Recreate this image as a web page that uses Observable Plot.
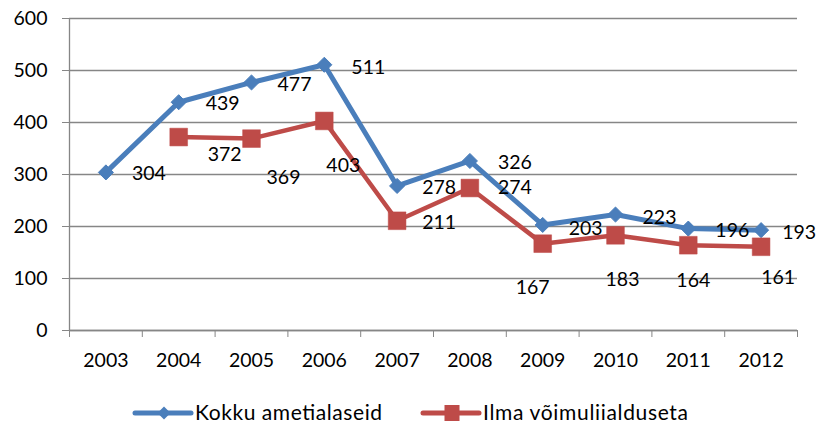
<!DOCTYPE html>
<html>
<head>
<meta charset="utf-8">
<script src="https://cdn.jsdelivr.net/npm/d3@7"></script>
<script src="https://cdn.jsdelivr.net/npm/@observablehq/plot@0.6"></script>
<style>
  body { margin: 0; background: #fff; font-family: Lato, sans-serif; }
  #wrap { position: relative; width: 818px; height: 423px; overflow: hidden; }
  #legend { position: absolute; left: 0; top: 390px; width: 818px; height: 33px; }
</style>
</head>
<body>
<div id="wrap">
  <div id="chart"></div>
  <div id="legend"></div>
</div>
<script>
// ---- data ----
const years = [2003, 2004, 2005, 2006, 2007, 2008, 2009, 2010, 2011, 2012];
const kokkuAmetialaseid = [304, 439, 477, 511, 278, 326, 203, 223, 196, 193];
const ilmaVoimuliialduseta = [null, 372, 369, 403, 211, 274, 167, 183, 164, 161];
const seriesNames = ["Kokku ametialaseid", "Ilma võimuliialduseta"];
const yTicks = [0, 100, 200, 300, 400, 500, 600];

// ---- styling (label nudges in pixels) ----
const blueColor = "#4a7ebb";
const redColor = "#be4b48";
const gridColor = "#868686";
const blueLabelDx = [43, 44, 43, 44, 42, 45, 43, 44, 44, 38];
const blueLabelDy = [1, 2, 2, 3, 2, 2, 4, 3, 2, 3];
const redLabelDx = [0, 46, 32, 19, 42, 45, -10, 7, 5, 17];
const redLabelDy = [0, 18, 39, 45, 2, 0, 44, 44, 36, 31];

const blueData = years.map((year, i) => ({year, value: kokkuAmetialaseid[i], i}));
const redData = years.map((year, i) => ({year, value: ilmaVoimuliialduseta[i], i})).filter(d => d.value != null);

const boundaries = d3.range(years.length + 1).map(k => years[0] - 0.5 + k);

const labelMarks = [];
blueData.forEach(d => labelMarks.push(Plot.text([d], {x: "year", y: "value", text: d => String(d.value), dx: blueLabelDx[d.i], dy: blueLabelDy[d.i], fill: "black"})));
redData.forEach(d => labelMarks.push(Plot.text([d], {x: "year", y: "value", text: d => String(d.value), dx: redLabelDx[d.i], dy: redLabelDy[d.i], fill: "black"})));

const chart = Plot.plot({
  width: 818,
  height: 390,
  marginLeft: 69,
  marginRight: 21,
  marginTop: 18,
  marginBottom: 60,
  style: {fontFamily: "Lato, sans-serif", fontSize: "19.5px", background: "white", color: "black", overflow: "visible"},
  x: {domain: [years[0] - 0.5, years[years.length - 1] + 0.5]},
  y: {domain: [0, 600]},
  marks: [
    Plot.gridY(yTicks, {stroke: gridColor, strokeOpacity: 1, strokeWidth: 1.3}),
    Plot.axisY({ticks: yTicks, tickSize: 7, tickPadding: 15, stroke: gridColor, tickFormat: d => String(d), label: null}),
    Plot.axisX({ticks: boundaries, tickSize: 7, stroke: gridColor, tickFormat: () => "", label: null}),
    Plot.axisX({ticks: years, tickSize: 0, tickPadding: 23, tickFormat: d => String(d), label: null}),
    Plot.ruleX([boundaries[0]], {stroke: gridColor, strokeWidth: 1.3}),
    Plot.ruleY([0], {stroke: gridColor, strokeWidth: 1.3}),
    Plot.line(blueData, {x: "year", y: "value", stroke: blueColor, strokeWidth: 5, strokeLinejoin: "round"}),
    Plot.dot(blueData, {x: "year", y: "value", symbol: "diamond2", r: 6.8, fill: blueColor, stroke: blueColor, strokeWidth: 1}),
    Plot.line(redData, {x: "year", y: "value", stroke: redColor, strokeWidth: 4.5, strokeLinejoin: "round"}),
    Plot.dot(redData, {x: "year", y: "value", symbol: "square", r: 10, fill: redColor, stroke: redColor, strokeWidth: 0.5}),
    ...labelMarks
  ]
});
document.getElementById("chart").appendChild(chart);

// ---- legend (below the plot SVG) ----
const legendItems = [
  {name: seriesNames[0], color: blueColor, symbol: "diamond", lineX: 135, textX: 195, textW: 187},
  {name: seriesNames[1], color: redColor, symbol: "square", lineX: 423, textX: 483, textW: 205}
];
const lsvg = d3.select("#legend").append("svg").attr("width", 818).attr("height", 33)
  .style("display", "block").style("font-family", "Lato, sans-serif").style("font-size", "21px");
const cy = 23;
legendItems.forEach(it => {
  const g = lsvg.append("g");
  g.append("line").attr("x1", it.lineX).attr("x2", it.lineX + 56).attr("y1", cy).attr("y2", cy)
    .attr("stroke", it.color).attr("stroke-width", 5).attr("stroke-linecap", "round");
  const mx = it.lineX + 29;
  if (it.symbol === "diamond") {
    g.append("path").attr("d", `M${mx},${cy - 6.5} L${mx + 6.5},${cy} L${mx},${cy + 6.5} L${mx - 6.5},${cy} Z`).attr("fill", it.color);
  } else {
    g.append("rect").attr("x", mx - 7.5).attr("y", cy - 8).attr("width", 15).attr("height", 16).attr("fill", it.color);
  }
  g.append("text").attr("x", it.textX).attr("y", cy).attr("dy", "0.35em").attr("fill", "black")
    .attr("textLength", it.textW).attr("lengthAdjust", "spacing").text(it.name);
});
</script>
</body>
</html>
